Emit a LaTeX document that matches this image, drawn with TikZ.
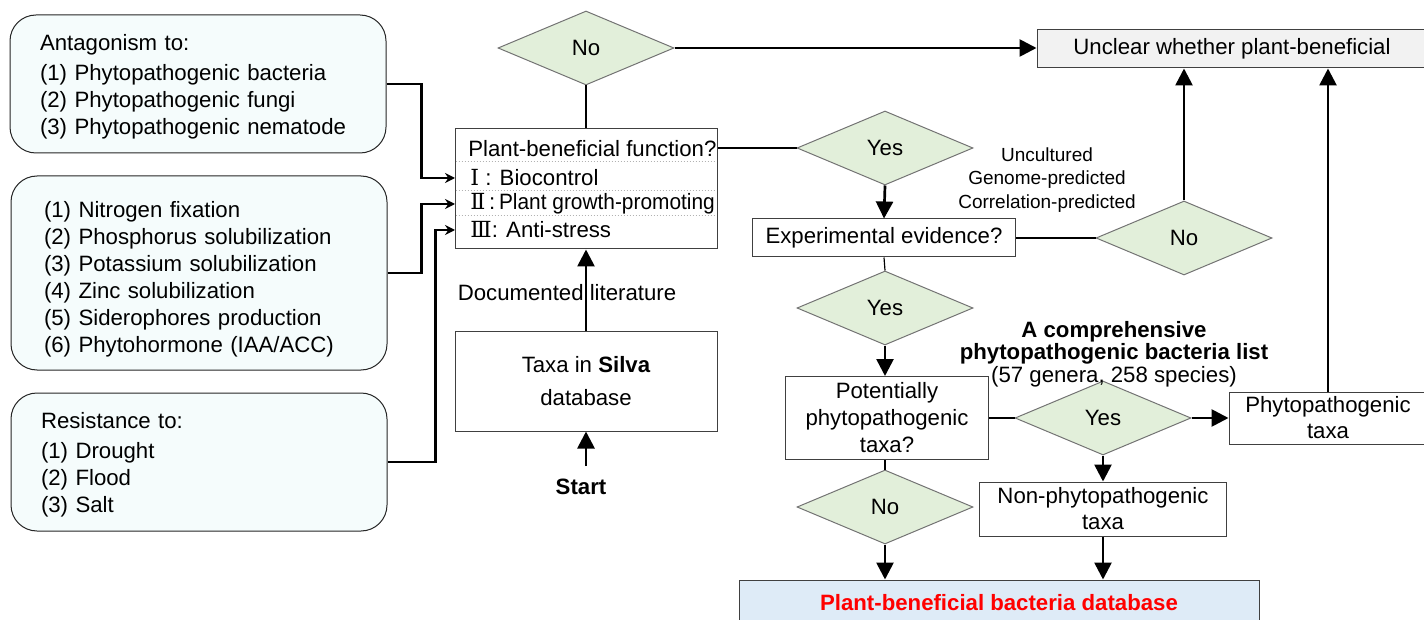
\documentclass[tikz,border=0pt]{standalone}
\usepackage{fontspec}
\setmainfont{Liberation Sans}
\newfontfamily\romnum{DejaVu Serif}
\newfontfamily\narrowsans[FakeStretch=0.94]{Liberation Sans}
\usetikzlibrary{shapes.geometric,arrows.meta,positioning}

\definecolor{sidefill}{HTML}{F5FCFC}
\definecolor{decfill}{HTML}{E2EFDA}
\definecolor{dbfill}{HTML}{DEEBF7}
\definecolor{grayfill}{HTML}{F2F2F2}

\tikzset{
    sidebox/.style={draw=black!85, fill=sidefill, rounded corners=13pt, line width=0.5pt,
        align=left, inner xsep=15pt, text width=158pt, minimum height=#1},
    decision/.style={diamond, draw=black!55, fill=decfill, line width=0.5pt,
        minimum width=88pt, minimum height=37pt, inner sep=0pt},
    plainbox/.style={draw=black!75, fill=white, line width=0.5pt, align=center, inner sep=0pt},
    rowtext/.style={anchor=west, inner xsep=6.5pt, inner ysep=1pt},
    flow/.style={-{Triangle[length=8.5pt,width=8.5pt]}, line width=1.35pt},
    feed/.style={-{Stealth[length=5pt,width=5pt]}, line width=1.2pt},
    link/.style={line width=0.6pt}
}

\begin{document}
\begin{tikzpicture}[x=0.5pt, y=-0.5pt, font=\fontsize{11.1}{13.5}\selectfont]
    \useasboundingbox (0,0) rectangle (1424,620);

    % left hand lists
    \node[sidebox=69pt] (antag) at (198,84) {\rule{0pt}{10.5pt}Antagonism to:\\[1.5pt]
        (1) Phytopathogenic bacteria\\(2) Phytopathogenic fungi\\(3) Phytopathogenic nematode};
    \node[sidebox=97pt, inner xsep=16.5pt, text width=155pt] (growth) at (199,273) {\rule{0pt}{14pt}(1) Nitrogen fixation\\
        (2) Phosphorus solubilization\\(3) Potassium solubilization\\(4) Zinc solubilization\\
        (5) Siderophores production\\(6) Phytohormone (IAA/ACC)};
    \node[sidebox=69pt] (resist) at (199,462) {\rule{0pt}{10.5pt}Resistance to:\\[1.5pt]
        (1) Drought\\(2) Flood\\(3) Salt};

    % function box
    \node[plainbox, minimum width=131pt, minimum height=60pt] (func) at (586,189) {};
    \foreach \y in {162,191,216}
        \draw[gray!60, densely dotted, line width=0.5pt] (455.5,\y) -- (716.5,\y);
    \node[rowtext] (fhead) at (455,149) {Plant-beneficial function?};
    \node[rowtext] (fI) at (455,178) {\hspace{1pt}{\romnum Ⅰ} : Biocontrol};
    \node[rowtext] (fII) at (455,204) {\hspace{1pt}{\romnum Ⅱ}\,:\,{\narrowsans Plant growth-promoting}};
    \node[rowtext] (fIII) at (455,230) {\hspace{1pt}{\romnum Ⅲ}: Anti-stress};

    \draw[feed] (antag.east) -- ++(35,0) |- (fI.west);
    \draw[feed] (growth.east) -- ++(34,0) |- (fII.west);
    \draw[feed] (resist.east) -- ++(48,0) |- (fIII.west);

    % start and literature
    \node[plainbox, minimum width=131pt, minimum height=50pt, font=\fontsize{11.1}{16.5}\selectfont]
        (taxa) at (586,381) {Taxa in \textbf{Silva}\\database};
    \node (doc) at (567,293) {Documented literature};
    \node[font=\fontsize{11.1}{13.5}\selectfont\bfseries] (start) at (581,487) {Start};
    \draw[flow] (taxa.north) -- (func.south);
    \draw[flow, shorten <=3pt] (taxa.south |- start.north) -- (taxa.south);

    % upper decisions
    \node[decision] (notop) at (586,48) {No};
    \node[draw=black!75, fill=grayfill, line width=0.5pt, minimum width=195pt, minimum height=19pt]
        (unclear) at (1232,49) {Unclear whether plant-beneficial};
    \draw[link] (notop.south) -- (func.north);
    \draw[flow] (notop.east) -- (notop.east -| unclear.west);

    \node[decision] (yesA) at (885,148) {Yes};
    \draw[link] (func.east |- yesA) -- (yesA.west);
    \node[plainbox, minimum width=131.5pt, minimum height=19pt] (exper) at (884,238) {Experimental evidence?};
    \draw[flow] (yesA.south) -- (exper.north);

    \node[decision] (noB) at (1184,238) {No};
    \draw[link] (exper.east) -- (noB.west);
    \draw[flow] (noB.north) -- (noB.north |- unclear.south);
    \node[font=\fontsize{9.5}{11.75}\selectfont, align=center] (pred) at (1047,180)
        {Uncultured\\Genome-predicted\\Correlation-predicted};

    % phytopathogen check
    \node[decision] (yesB) at (885,308) {Yes};
    \draw[link] (exper.south) -- (yesB.north);
    \node[plainbox, minimum width=101.5pt, minimum height=41.5pt] (potent) at (887,418)
        {Potentially\\phytopathogenic\\taxa?};
    \draw[flow] (yesB.south) -- (yesB.south |- potent.north);

    \node[decision] (yesC) at (1103,418) {Yes};
    \draw[link] (potent.east) -- (yesC.west);
    \node[align=center, font=\fontsize{11.1}{11.3}\selectfont] (list) at (1114,354)
        {\textbf{A comprehensive}\\\textbf{phytopathogenic bacteria list}\\(57 genera, 258 species)};
    \node[plainbox, minimum width=99pt, minimum height=26pt, font=\fontsize{11.1}{13}\selectfont]
        (phyto) at (1328,418) {Phytopathogenic\\taxa};
    \draw[flow] (yesC.east) -- (phyto.west);
    \draw[flow] (phyto.north) -- (phyto.north |- unclear.south);

    \node[plainbox, minimum width=123.5pt, minimum height=27pt, font=\fontsize{11.1}{13}\selectfont]
        (nonphyto) at (1103,509) {Non-phytopathogenic\\taxa};
    \draw[flow] (yesC.south) -- (nonphyto.north);

    \node[decision] (noC) at (885,507) {No};
    \draw[link] (potent.south -| noC) -- (noC.north);

    % result
    \node[draw=black!75, fill=dbfill, line width=0.5pt, minimum width=260pt, minimum height=23pt,
        font=\fontsize{11.1}{13.5}\selectfont\bfseries, text=red] (db) at (999,603)
        {Plant-beneficial bacteria database};
    \draw[flow] (noC.south) -- (noC.south |- db.north);
    \draw[flow] (nonphyto.south) -- (nonphyto.south |- db.north);
\end{tikzpicture}
\end{document}
